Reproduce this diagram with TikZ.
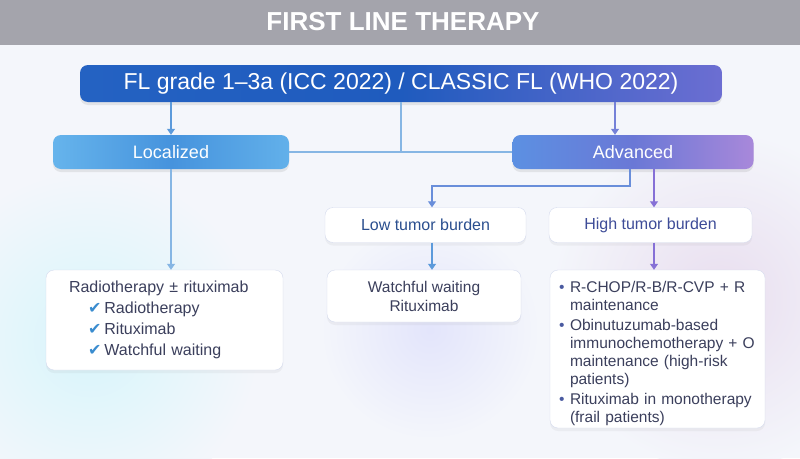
\documentclass[tikz,border=0pt]{standalone}
\usepackage{fontspec}
\setmainfont{Liberation Sans}
\newfontfamily\symfont{DejaVu Sans}
\usetikzlibrary{arrows.meta,shadows}
\definecolor{bandgray}{HTML}{A4A4AC}
\definecolor{pagebg}{HTML}{F4F6FB}
\definecolor{topleft}{HTML}{2462C2}
\definecolor{topmid}{HTML}{1F5BBE}
\definecolor{topright}{HTML}{6C6ED2}
\definecolor{locleft}{HTML}{66B4EC}
\definecolor{locmid}{HTML}{4693DD}
\definecolor{locright}{HTML}{62B0EA}
\definecolor{advleft}{HTML}{5C90E2}
\definecolor{advmid}{HTML}{6A78D6}
\definecolor{advright}{HTML}{A888DA}
\definecolor{cardline}{HTML}{D5DBEE}
\definecolor{textgray}{HTML}{3B3F5C}
\definecolor{lowtext}{HTML}{2B4F8F}
\definecolor{hightext}{HTML}{3E4C98}
\definecolor{linkblue}{HTML}{5C9ADB}
\definecolor{linklight}{HTML}{86B6E4}
\definecolor{linkpurple}{HTML}{8670D6}
\definecolor{checkblue}{HTML}{3A8CCF}
\definecolor{bulletblue}{HTML}{4A5AA0}
\begin{document}
\begin{tikzpicture}[x=1pt,y=-1pt,
  head/.style={rounded corners=8pt,inner sep=0pt,text=white,
    drop shadow={opacity=0.16,shadow xshift=0pt,shadow yshift=-3pt}},
  card/.style={rounded corners=8pt,inner sep=0pt,draw=cardline,fill=white,
    drop shadow={opacity=0.08,shadow xshift=0pt,shadow yshift=-3pt}},
  link/.style={line width=1.2pt,-{Triangle[length=6pt,width=8pt]}}]
\useasboundingbox (0,0) rectangle (800,458);
% background
\fill[pagebg] (0,0) rectangle (800,458);
\shade[inner color=blue!6!cyan!12!pagebg,outer color=pagebg] (90,340) circle (170);
\shade[inner color=violet!10!pagebg,outer color=pagebg] (720,300) circle (170);
\shade[inner color=blue!7!pagebg,outer color=pagebg] (430,330) circle (110);
\fill[bandgray] (0,0) rectangle (800,45);
\node[text=white,font=\fontsize{26}{30}\selectfont\bfseries] (title) at (403,22) {FIRST LINE THERAPY};

% boxes
\node[head,left color=topleft,right color=topright,middle color=topmid,
  minimum width=642pt,minimum height=37pt,font=\fontsize{23}{26}\selectfont]
  (fl) at (401,83.5) {FL grade 1–3a (ICC 2022) / CLASSIC FL (WHO 2022)};
\node[head,left color=locleft,right color=locright,middle color=locmid,
  minimum width=236pt,minimum height=34pt,font=\fontsize{18}{20}\selectfont]
  (loc) at (171,152) {Localized};
\node[head,left color=advleft,right color=advright,middle color=advmid,
  minimum width=241pt,minimum height=34pt,font=\fontsize{18}{20}\selectfont]
  (adv) at (633,152) {Advanced};
\node[card,minimum width=201pt,minimum height=35pt,text=lowtext,
  font=\fontsize{16}{18}\selectfont] (low) at (425.5,225) {Low tumor burden};
\node[card,minimum width=203pt,minimum height=35pt,text=hightext,
  font=\fontsize{16}{18}\selectfont] (high) at (650.5,225) {High tumor burden};

\node[card,minimum width=237pt,minimum height=100pt,text=textgray,
  inner xsep=23pt,text width=191pt,align=left,
  font=\fontsize{16}{21}\selectfont] (locrx) at (164.5,320)
  {Radiotherapy ± rituximab\\
   \hspace*{19pt}{\symfont\color{checkblue}✔}\hspace{3pt}Radiotherapy\\
   \hspace*{19pt}{\symfont\color{checkblue}✔}\hspace{3pt}Rituximab\\
   \hspace*{19pt}{\symfont\color{checkblue}✔}\hspace{3pt}Watchful waiting};
\node[card,minimum width=194pt,minimum height=52pt,text=textgray,align=center,
  font=\fontsize{15.5}{19}\selectfont] (lowrx) at (424,296)
  {Watchful waiting\\ Rituximab};
\node[card,minimum width=215pt,minimum height=158pt,text=textgray,
  inner xsep=9pt,text width=197pt,align=left,
  font=\fontsize{15.5}{18}\selectfont] (highrx) at (657.5,349)
  {\rule{0pt}{20pt}\makebox[11pt][l]{\color{bulletblue}•}R-CHOP/R-B/R-CVP + R\\
   \hspace*{11pt}maintenance\\[2pt]
   \makebox[11pt][l]{\color{bulletblue}•}Obinutuzumab-based\\
   \hspace*{11pt}\mbox{immunochemotherapy + O}\\
   \hspace*{11pt}maintenance (high-risk\\
   \hspace*{11pt}patients)\\[2pt]
   \makebox[11pt][l]{\color{bulletblue}•}Rituximab in monotherapy\\
   \hspace*{11pt}(frail patients)};

% connectors
\coordinate (split) at (630,186);
\draw[link,linkblue] (fl.south -| loc.north) -- (loc.north);
\draw[line width=1.2pt,linklight] (fl.south) |- (loc.east);
\draw[line width=1.2pt,linklight] (fl.south) |- (adv.west);
\draw[link,linkpurple!60!linkblue] ([xshift=-18pt]fl.south -| adv.north) -- ([xshift=-18pt]adv.north);
\draw[link,linkpurple!30!linkblue] (adv.south -| split) -- (split) -| ([xshift=6.5pt]low.north);
\draw[link,linkpurple] ([xshift=21pt]adv.south) -- ([xshift=21pt]adv.south |- high.north);
\draw[link,linklight] (loc.south) -- (loc.south |- locrx.north);
\draw[link,linkblue] ([xshift=6.5pt]low.south) -- ([xshift=6.5pt]low.south |- lowrx.north);
\draw[link,linkpurple] ([xshift=3.5pt]high.south) -- ([xshift=3.5pt]high.south |- highrx.north);
\end{tikzpicture}
\end{document}
